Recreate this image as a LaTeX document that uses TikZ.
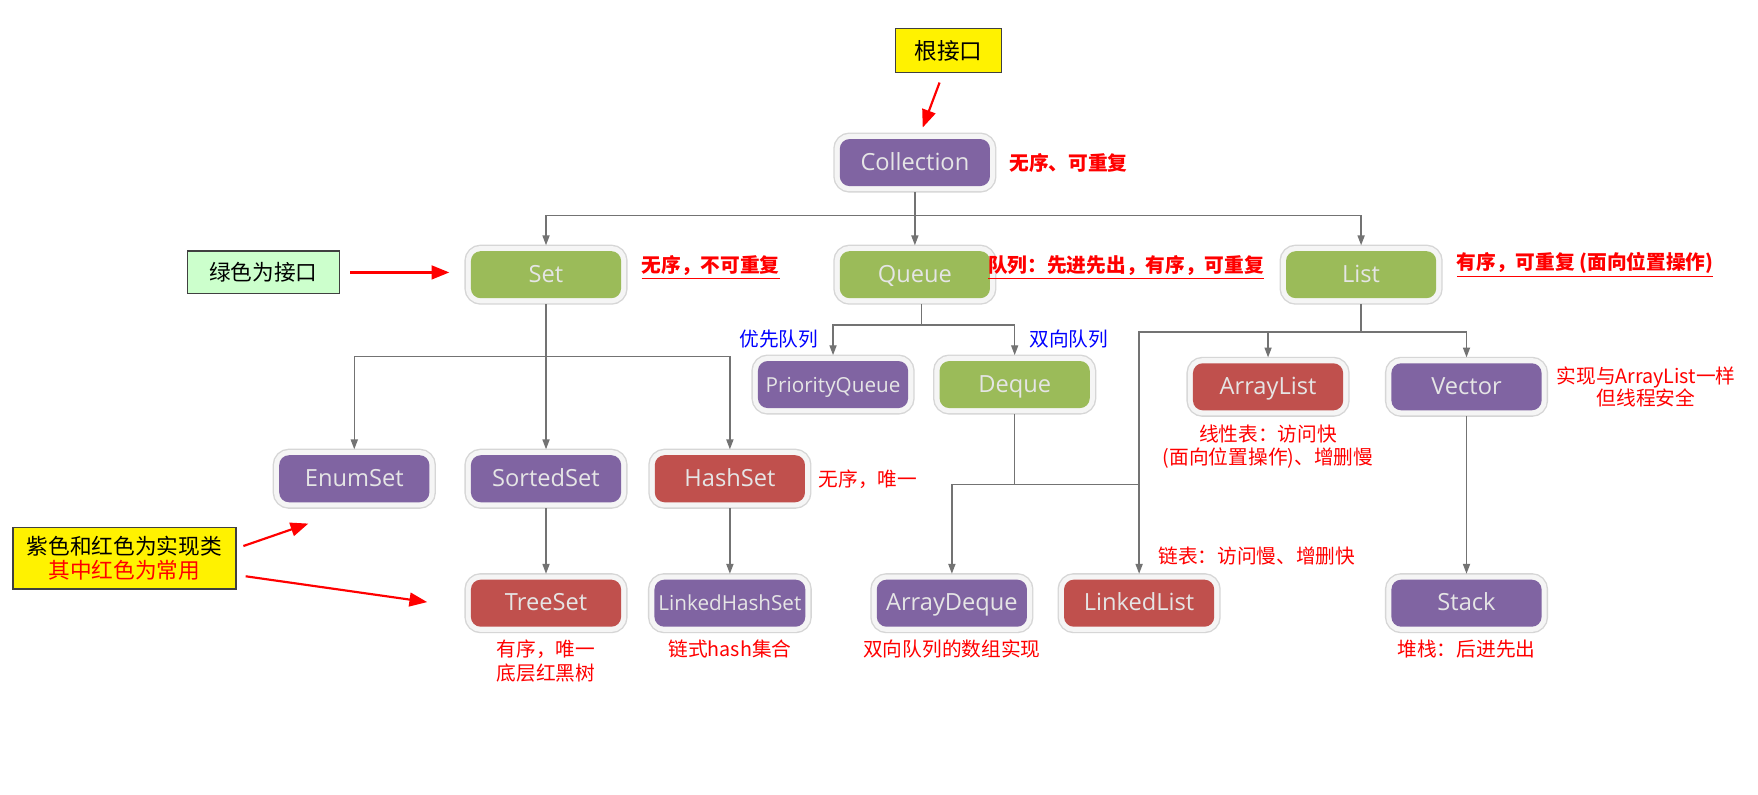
\documentclass[tikz,border=0pt]{standalone}
\usepackage{fontspec}
\setmainfont{Noto Sans CJK SC}
\newfontfamily\boxfont{Open Sans}
\usepackage{xcolor}
\usetikzlibrary{arrows.meta, positioning}
\definecolor{ifgreen}{HTML}{9BBB59}
\definecolor{clspurple}{HTML}{8064A2}
\definecolor{clsred}{HTML}{C0504D}
\definecolor{keygreen}{HTML}{CCFFCC}

\begin{document}
\begin{tikzpicture}[
    x=0.02cm, y=0.02cm,
    cls/.style={rectangle, rounded corners=5pt, fill=#1, text=white!90!black,
                minimum width=2.68cm, minimum height=0.84cm, inner sep=2pt,
                text height=8.8pt, text depth=1.2pt,
                outer sep=3pt, font=\boxfont\fontsize{12}{14}\selectfont,
                preaction={draw=gray!32, line width=6.6pt},
                preaction={draw=gray!8, line width=5.2pt}},
    legend/.style={rectangle, draw=black!75, line width=0.7pt, fill=#1,
                   align=center, font=\fontsize{11}{12.5}\selectfont},
    link/.style={-{Triangle[length=5pt, width=3.6pt]}, gray!90!black, line width=0.7pt},
    wire/.style={gray!90!black, line width=0.7pt},
    redarr/.style={-{Triangle[length=9pt, width=7pt]}, red, line width=1.1pt},
    note/.style={text=red, inner sep=1pt, align=center,
                 font=\fontsize{10}{11.5}\selectfont},
    keynote/.style={note, font=\bfseries\fontsize{10}{12}\selectfont},
    bluenote/.style={note, text=blue}
  ]
    \path[use as bounding box, fill=white] (0,0) rectangle (1568,-709);

    % Legend boxes
    \node[legend=yellow, minimum width=1.9cm, minimum height=0.78cm,
          font=\fontsize{11.5}{13}\selectfont] (root) at (846,-45) {根接口};
    \node[legend=keygreen, minimum width=2.72cm, minimum height=0.76cm] (ifkey) at (235,-243) {绿色为接口};
    \node[legend=yellow, minimum width=3.98cm, minimum height=1.1cm] (clskey) at (111,-498)
         {紫色和红色为实现类\\\textcolor{red}{其中红色为常用}};

    % Interfaces and classes
    \node[cls=clspurple] (coll)  at (816,-145)  {Collection};
    \node[cls=ifgreen]   (set)   at (487,-245)  {Set};
    \node[cls=ifgreen]   (queue) at (816,-245)  {Queue};
    \node[cls=ifgreen]   (list)  at (1214,-245) {List};

    \node[cls=clspurple, font=\boxfont\fontsize{10.5}{12}\selectfont] (pq) at (743,-343) {PriorityQueue};
    \node[cls=ifgreen]   (deque)  at (905,-343)  {Deque};
    \node[cls=clsred]    (alist)  at (1131,-345) {ArrayList};
    \node[cls=clspurple] (vector) at (1308,-345) {Vector};

    \node[cls=clspurple] (enumset) at (316,-427) {EnumSet};
    \node[cls=clspurple] (sset)    at (487,-427) {SortedSet};
    \node[cls=clsred]    (hset)    at (651,-427) {HashSet};

    \node[cls=clsred]    (tset)   at (487,-538)  {TreeSet};
    \node[cls=clspurple, font=\boxfont\fontsize{10.5}{12}\selectfont] (lhset) at (651,-538) {LinkedHashSet};
    \node[cls=clspurple] (adeque) at (849,-538)  {ArrayDeque};
    \node[cls=clsred]    (llist)  at (1016,-538) {LinkedList};
    \node[cls=clspurple] (stack)  at (1308,-538) {Stack};

    % Branch points
    \coordinate (cbus) at (816,-192);
    \coordinate (sbus) at (487,-318);
    \coordinate (qbus) at (822,-290);
    \coordinate (lbus) at (1214,-296);
    \coordinate (dbus) at (905,-432);

    % Tree connectors
    \draw[wire] (coll.south) -- (cbus);
    \draw[link] (cbus) -| (set.north);
    \draw[link] (cbus) -- (queue.north);
    \draw[link] (cbus) -| (list.north);

    \draw[wire] (set.south) -- (sbus);
    \draw[link] (sbus) -| (enumset.north);
    \draw[link] (sbus) -- (sset.north);
    \draw[link] (sbus) -| (hset.north);

    \draw[wire] (queue.south -| qbus) -- (qbus);
    \draw[link] (qbus) -| (pq.north);
    \draw[link] (qbus) -| (deque.north);

    \draw[wire] (list.south) -- (lbus);
    \draw[link] (lbus) -| (alist.north);
    \draw[link] (lbus) -| (vector.north);
    \draw[link] (lbus) -| (llist.north);

    \draw[wire] (deque.south) -- (dbus);
    \draw[link] (dbus) -| (adeque.north);
    \draw[wire] (dbus) -- (dbus -| llist.north);

    \draw[link] (sset)   -- (tset);
    \draw[link] (hset)   -- (lhset);
    \draw[link] (vector) -- (stack);

    % Red pointers from the legend
    \coordinate (enumtip) at (275,-467);
    \coordinate (treetip) at (381,-537);
    \draw[redarr] ([xshift=-0.16cm, yshift=-0.17cm]root.south) -- ([xshift=0.14cm, yshift=0.1cm]coll.north);
    \draw[redarr, shorten <=0.18cm, shorten >=0.28cm] (ifkey.east) -- (ifkey.east -| set.west);
    \draw[redarr] ([xshift=0.12cm, yshift=0.22cm]clskey.east) -- (enumtip);
    \draw[redarr] ([xshift=0.16cm, yshift=-0.32cm]clskey.east) -- (treetip);

    % Notes
    \node[keynote, right=0.2cm of coll] {无序、可重复};
    \node[keynote, right=0.22cm of set, yshift=0.12cm] {\underline{无序，不可重复}};
    \node[keynote, right=-0.18cm of queue, yshift=0.12cm] {\underline{队列：先进先出，有序，可重复}};
    \node[keynote, right=0.22cm of list, yshift=0.18cm] {\underline{有序，可重复 (面向位置操作)}};

    \node[bluenote, above left=0.08cm and 0.22cm of pq.north] {优先队列};
    \node[bluenote, above right=0.08cm and 0.22cm of deque.north] {双向队列};

    \node[note, right=0.12cm of vector] {实现与ArrayList一样\\但线程安全};
    \node[note, below=0.12cm of alist] {线性表：访问快\\(面向位置操作)、增删慢};
    \node[note, right=0.1cm of hset] {无序，唯一};
    \node[note, above right=0.12cm and 0.3cm of llist.north] {链表：访问慢、增删快};

    \node[note, below=0.08cm of tset, font=\fontsize{10}{12.5}\selectfont] {有序，唯一\\底层红黑树};
    \node[note, below=0.08cm of lhset]  {链式hash集合};
    \node[note, below=0.08cm of adeque] {双向队列的数组实现};
    \node[note, below=0.08cm of stack]  {堆栈：后进先出};
  \end{tikzpicture}
\end{document}
